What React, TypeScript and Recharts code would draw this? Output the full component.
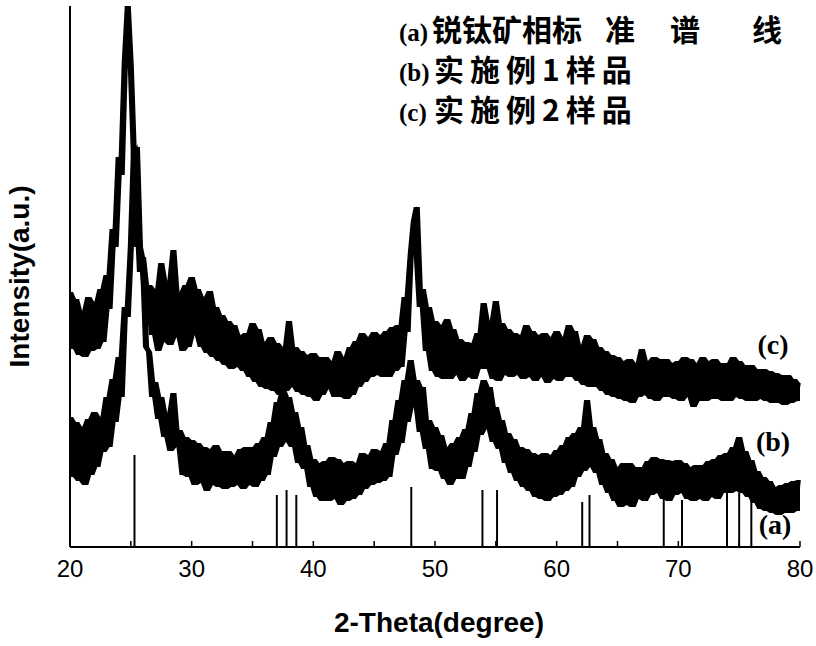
import React from 'react';
import { ComposedChart, Line, Area, XAxis, YAxis, ReferenceLine } from 'recharts';

// 2θ sampling grid: 20° → 80° every 0.25°
const startAngle = 20;
const stepAngle = 0.25;

// (c) 实施例2样品 (upper trace), one row per degree (4 samples each)
const sampleC: number[] = [
  255, 198, 248, 192,
  236, 190, 250, 196,
  245, 198, 258, 205,
  272, 238, 318, 300,
  390, 372, 485, 541,
  480, 392, 340, 275,
  290, 245, 262, 212,
  258, 196, 284, 205,
  266, 202, 297, 210,
  255, 196, 262, 200,
  270, 212, 258, 200,
  250, 194, 256, 190,
  240, 186, 232, 182,
  226, 178, 222, 180,
  212, 176, 214, 170,
  224, 165, 218, 160,
  205, 158, 210, 156,
  204, 152, 200, 156,
  226, 160, 200, 155,
  196, 152, 192, 150,
  194, 146, 190, 152,
  190, 158, 186, 150,
  196, 150, 190, 148,
  200, 152, 206, 160,
  214, 165, 210, 170,
  215, 172, 212, 170,
  216, 170, 220, 176,
  222, 180, 250, 215,
  292, 325, 340, 240,
  258, 196, 240, 176,
  226, 170, 222, 168,
  228, 168, 218, 172,
  208, 166, 205, 170,
  204, 168, 214, 178,
  244, 178, 226, 168,
  246, 166, 224, 172,
  218, 170, 214, 172,
  212, 168, 222, 170,
  216, 166, 212, 170,
  214, 164, 210, 168,
  216, 166, 210, 170,
  222, 170, 216, 166,
  202, 162, 212, 160,
  208, 160, 200, 156,
  196, 152, 192, 150,
  190, 148, 186, 146,
  188, 144, 184, 150,
  198, 152, 186, 148,
  190, 146, 188, 150,
  188, 150, 184, 148,
  186, 146, 190, 150,
  188, 140, 184, 146,
  190, 146, 186, 148,
  188, 148, 184, 146,
  184, 146, 190, 150,
  186, 148, 182, 146,
  182, 146, 178, 148,
  178, 146, 176, 144,
  174, 144, 172, 142,
  172, 144, 168, 146,
  164,
];

// (b) 实施例1样品 (middle trace)
const sampleB: number[] = [
  130, 70, 125, 66,
  120, 62, 128, 72,
  135, 80, 130, 95,
  150, 100, 168, 125,
  190, 150, 240, 230,
  300, 395, 400, 300,
  285, 200, 195, 150,
  165, 128, 150, 110,
  134, 96, 154, 100,
  117, 72, 110, 70,
  107, 62, 104, 64,
  100, 56, 98, 62,
  102, 60, 96, 58,
  96, 60, 92, 62,
  98, 58, 100, 62,
  100, 60, 104, 66,
  110, 72, 125, 90,
  145, 100, 158, 105,
  150, 100, 135, 84,
  120, 78, 102, 60,
  88, 50, 84, 46,
  86, 46, 90, 48,
  88, 42, 84, 46,
  86, 48, 84, 52,
  94, 58, 92, 62,
  98, 64, 96, 66,
  104, 70, 127, 92,
  147, 104, 167, 125,
  187, 140, 167, 115,
  160, 98, 127, 78,
  120, 76, 112, 68,
  100, 62, 104, 68,
  110, 68, 118, 80,
  134, 95, 154, 112,
  167, 118, 160, 105,
  140, 98, 127, 84,
  114, 74, 108, 66,
  100, 60, 98, 56,
  94, 50, 92, 48,
  94, 46, 92, 50,
  97, 52, 102, 56,
  110, 60, 114, 70,
  120, 76, 147, 80,
  120, 74, 108, 62,
  94, 54, 88, 46,
  80, 40, 84, 42,
  84, 40, 80, 48,
  80, 46, 86, 52,
  90, 54, 88, 48,
  87, 46, 86, 52,
  87, 54, 84, 48,
  80, 46, 82, 48,
  82, 46, 86, 50,
  88, 48, 92, 54,
  94, 54, 100, 56,
  110, 54, 96, 50,
  87, 44, 76, 38,
  70, 36, 66, 34,
  60, 32, 62, 34,
  64, 34, 66, 36,
  67,
];

// (a) anatase standard lines
const stdAngles = [25.3, 37.0, 37.8, 38.6, 48.05, 53.9, 55.1, 62.1, 62.7, 68.8, 70.3, 74.0, 75.0, 76.0];
const stdHeights = [92, 52, 57, 52, 60, 57, 57, 45, 52, 50, 47, 54, 54, 57];

const xTicks = [20, 25, 30, 35, 40, 45, 50, 55, 60, 65, 70, 75, 80];
const xTickLabels: Record<number, string> = { 20: '20', 30: '30', 40: '40', 50: '50', 60: '60', 70: '70', 80: '80' };

// local spread of the noisy readings (neighbouring samples), drawn as the dense noise band
const spread = (arr: number[], i: number): [number, number] => {
  const w = arr.slice(Math.max(0, i - 1), Math.min(arr.length, i + 2));
  return [Math.min(...w), Math.max(...w)];
};

const rows = sampleB.map((b, i) => ({
  angle: startAngle + i * stepAngle,
  b,
  c: sampleC[i],
  bBand: spread(sampleB, i),
  cBand: spread(sampleC, i),
}));

const sans = "'Liberation Sans', Arial, sans-serif";
const serif = "'Liberation Serif', 'DejaVu Serif', serif";
const cjk = "'Noto Sans CJK SC', 'Noto Sans CJK JP', sans-serif";

export default function App() {
  return (
    <div style={{ position: 'absolute', left: 0, top: 0, width: 816, height: 646, background: '#fff' }}>
      <ComposedChart width={816} height={646} data={rows} margin={{ top: 6, right: 16, bottom: 0, left: 0 }}>
        <XAxis
          dataKey="angle"
          type="number"
          domain={[20, 80]}
          ticks={xTicks}
          tickFormatter={(v: number) => xTickLabels[v] ?? ''}
          interval={0}
          height={99}
          tickSize={-6}
          tickMargin={19}
          axisLine={{ stroke: '#000', strokeWidth: 2 }}
          tickLine={{ stroke: '#000', strokeWidth: 1.5 }}
          tick={{ fill: '#000', fontSize: 24, fontFamily: sans }}
          label={{ value: '2-Theta(degree)', position: 'insideBottom', offset: 14, dx: 4, fill: '#000', fontSize: 28, fontWeight: 700, fontFamily: sans }}
        />
        <XAxis xAxisId="top" dataKey="angle" type="number" domain={[20, 80]} orientation="top" height={0} tick={false} tickLine={false} axisLine={{ stroke: '#000', strokeWidth: 2 }} />
        <YAxis
          type="number"
          domain={[0, 541]}
          width={70}
          tick={false}
          tickLine={false}
          axisLine={{ stroke: '#000', strokeWidth: 2 }}
          label={{ value: 'Intensity(a.u.)', angle: -90, position: 'center', dx: -16, fill: '#000', fontSize: 28, fontWeight: 700, fontFamily: sans }}
        />
        <YAxis yAxisId="right" orientation="right" type="number" domain={[0, 541]} width={0} tick={false} tickLine={false} axisLine={{ stroke: '#000', strokeWidth: 2 }} />
        {stdAngles.map((a, i) => (
          <ReferenceLine
            key={a}
            segment={[{ x: a, y: 0 }, { x: a, y: stdHeights[i] }]}
            stroke="#000"
            strokeWidth={2}
          />
        ))}
        <Area type="linear" dataKey="cBand" stroke="none" fill="#000" fillOpacity={1} isAnimationActive={false} activeDot={false} />
        <Area type="linear" dataKey="bBand" stroke="none" fill="#000" fillOpacity={1} isAnimationActive={false} activeDot={false} />
        <Line type="linear" dataKey="c" stroke="#000" strokeWidth={1.6} dot={false} isAnimationActive={false} />
        <Line type="linear" dataKey="b" stroke="#000" strokeWidth={1.6} dot={false} isAnimationActive={false} />
      </ComposedChart>
      <svg width={816} height={646} style={{ position: 'absolute', left: 0, top: 0, pointerEvents: 'none' }}>
        <text y={41} fill="#000">
          <tspan x={399} fontFamily={serif} fontSize={25} fontWeight={700}>(a)</tspan>
          <tspan x={432} fontFamily={cjk} fontSize={30} fontWeight={700}>锐钛矿相标</tspan>
          <tspan x={605} fontFamily={cjk} fontSize={30} fontWeight={700}>准</tspan>
          <tspan x={670} fontFamily={cjk} fontSize={30} fontWeight={700}>谱</tspan>
          <tspan x={752} fontFamily={cjk} fontSize={30} fontWeight={700}>线</tspan>
        </text>
        <text y={81} fill="#000">
          <tspan x={399} fontFamily={serif} fontSize={25} fontWeight={700}>(b)</tspan>
          <tspan x={434} fontFamily={cjk} fontSize={30} fontWeight={700} letterSpacing={6}>实施例1样品</tspan>
        </text>
        <text y={121} fill="#000">
          <tspan x={399} fontFamily={serif} fontSize={25} fontWeight={700}>(c)</tspan>
          <tspan x={434} fontFamily={cjk} fontSize={30} fontWeight={700} letterSpacing={6}>实施例2样品</tspan>
        </text>
        <text x={773} y={354} textAnchor="middle" fontFamily={serif} fontSize={28} fontWeight={700} fill="#000">(c)</text>
        <text x={773} y={451} textAnchor="middle" fontFamily={serif} fontSize={28} fontWeight={700} fill="#000">(b)</text>
        <text x={775} y={534} textAnchor="middle" fontFamily={serif} fontSize={28} fontWeight={700} fill="#000">(a)</text>
      </svg>
    </div>
  );
}
